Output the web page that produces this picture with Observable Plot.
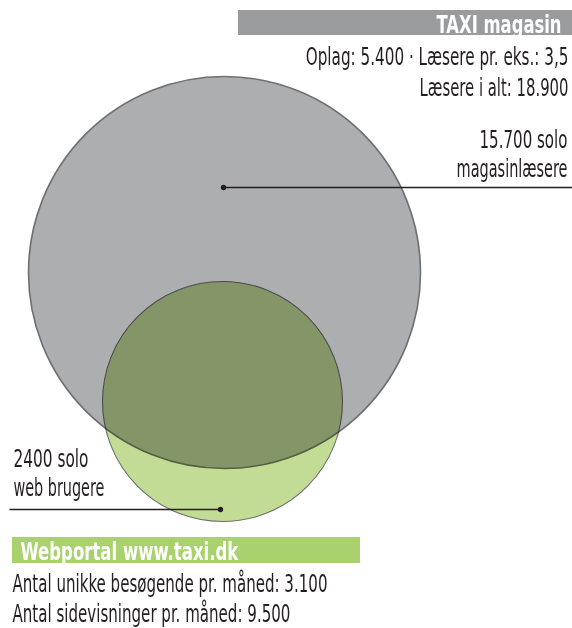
<!DOCTYPE html>
<html><head><meta charset="utf-8">
<script src="https://cdn.jsdelivr.net/npm/d3@7"></script>
<script src="https://cdn.jsdelivr.net/npm/@observablehq/plot@0.6"></script>
<style>
body{margin:0;background:#fff}
#chart svg{display:block}
</style>
</head><body><div id="chart"></div>
<script>
// ---- data (text and values) ----
const groups = ["TAXI magasin", "Webportal www.taxi.dk"];
const magasinStats = ["Oplag: 5.400 · Læsere pr. eks.: 3,5", "Læsere i alt: 18.900"];
const webStats = ["Antal unikke besøgende pr. måned: 3.100", "Antal sidevisninger pr. måned: 9.500"];
const magasinSolo = ["15.700 solo", "magasinlæsere"];
const webSolo = ["2400 solo", "web brugere"];

// ---- layout (pixel space of a 572x628 canvas) ----
const W = 572, H = 628;
const FONT = "'Liberation Sans Narrow','DejaVu Sans Condensed','Roboto Condensed','Liberation Sans',sans-serif";
const INK = "#231f20";

const circleLayout = [
  {set: groups[0], cx: 224, cy: 272, r: 196, fill: "#adaeb0", stroke: "#6e6f71", sw: 1.6, blend: "normal"},
  {set: groups[1], cx: 222, cy: 401, r: 120, fill: "#c2dc95", stroke: "#6e6f71", sw: 1.1, blend: "multiply"}
];
const bars = [
  {set: groups[0], x1: 238, x2: 572, y1: 10, y2: 35, fill: "#9a9b9d"},
  {set: groups[1], x1: 12, x2: 360, y1: 537, y2: 563, fill: "#a9d16e"}
];
const leaders = [
  {x1: 223, y1: 187, x2: 572, y2: 187, dx: 223, dy: 187},
  {x1: 9, y1: 509, x2: 220, y2: 509, dx: 220, dy: 509}
];
// text placements: baseline y, anchor x, target width
const titleText = [
  {text: groups[0], x: 561, y: 32, w: 125, anchor: "end"},
  {text: groups[1], x: 20, y: 559, w: 218, anchor: "start"}
];
const bodyText = [
  {text: magasinStats[0], x: 568, y: 64, w: 263, anchor: "end"},
  {text: magasinStats[1], x: 568, y: 95, w: 149, anchor: "end"},
  {text: magasinSolo[0], x: 567, y: 147, w: 88, anchor: "end"},
  {text: magasinSolo[1], x: 567, y: 176, w: 111, anchor: "end"},
  {text: webSolo[0], x: 13, y: 466, w: 75, anchor: "start"},
  {text: webSolo[1], x: 13, y: 495, w: 91, anchor: "start"},
  {text: webStats[0], x: 12, y: 591, w: 315, anchor: "start"},
  {text: webStats[1], x: 12, y: 621, w: 278, anchor: "start"}
];

const textMarks = (rows, opts) => ["start", "end"].map(a =>
  Plot.text(rows.filter(d => d.anchor === a), {
    x: "x", y: "y", text: "text", textAnchor: a, lineAnchor: "bottom",
    fontFamily: FONT, ...opts
  }));

const chart = Plot.plot({
  width: W, height: H, margin: 0,
  x: {domain: [0, W], range: [0, W], axis: null},
  y: {domain: [0, H], range: [0, H], axis: null},
  style: {fontFamily: FONT, background: "#fff"},
  marks: [
    ...circleLayout.map(c => Plot.dot([c], {
      x: "cx", y: "cy", r: c.r, fill: c.fill, stroke: c.stroke,
      strokeWidth: c.sw, mixBlendMode: c.blend
    })),
    Plot.rect(bars, {x1: "x1", x2: "x2", y1: "y1", y2: "y2", fill: "fill"}),
    Plot.link(leaders, {x1: "x1", y1: "y1", x2: "x2", y2: "y2", stroke: INK, strokeWidth: 1.3}),
    Plot.dot(leaders, {x: "dx", y: "dy", r: 2.7, fill: INK}),
    ...textMarks(titleText, {fill: "#fff", fontWeight: "bold", fontSize: 24}),
    ...textMarks(bodyText, {fill: INK, fontSize: 24})
  ]
});

document.getElementById("chart").append(chart);

// condense each label horizontally to its measured width (the face in the picture is a condensed one)
const placed = new Map([...titleText, ...bodyText].map(d => [d.text, d]));
d3.select(chart).selectAll("text").each(function() {
  const d = placed.get(this.textContent);
  if (!d) return;
  this.setAttribute("text-anchor", d.anchor);
  const natural = this.getComputedTextLength();
  if (natural > 0) {
    const sx = d.w / natural;
    const t = this.getAttribute("transform") || "";
    this.setAttribute("transform", `${t} scale(${sx.toFixed(4)},1)`);
  }
});
</script>
</body></html>
